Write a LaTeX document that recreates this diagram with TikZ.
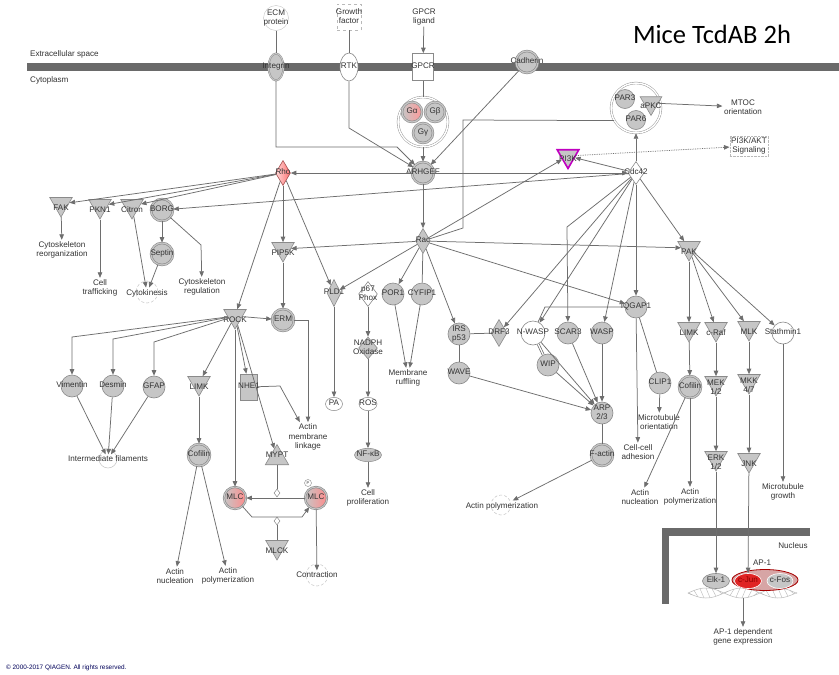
\documentclass[tikz,border=0pt]{standalone}
\usepackage{fontspec}
\setmainfont{Liberation Sans}
\newfontfamily\titlefont{Carlito}
\usetikzlibrary{shapes.geometric,arrows.meta}
\newcommand{\zb}[1]{\makebox[0pt]{\begin{tabular}{@{}c@{}}#1\end{tabular}}}
\definecolor{edgec}{HTML}{6E6E6E}
\definecolor{nodef}{HTML}{C6C6C6}
\definecolor{nodeb}{HTML}{8A8A8A}
\definecolor{membr}{HTML}{6A6A6A}
\definecolor{jun}{HTML}{E02424}
\definecolor{magen}{HTML}{C000C0}
\definecolor{apf}{HTML}{D7A5A5}
\begin{document}
\begin{tikzpicture}[x=1pt,y=-1pt,
  every node/.style={font=\fontsize{8.1}{9.4}\selectfont, text=black!80, inner sep=0pt},
  gc/.style={circle, fill=nodef, draw=nodeb, line width=0.6pt, minimum size=22pt},
  dc/.style={gc, double=nodef, double distance=1.2pt},
  wc/.style={circle, fill=white, draw=nodeb, line width=0.6pt, minimum size=22pt},
  kin/.style={regular polygon, regular polygon sides=3, shape border rotate=180, fill=nodef, draw=nodeb, line width=0.6pt, minimum size=26pt},
  kl/.style={yshift=-4pt, align=center},
  dia/.style={diamond, fill=nodef, draw=nodeb, line width=0.6pt, minimum width=15pt, minimum height=25pt},
  fn/.style={align=center, inner sep=1.5pt},
  gear/.style={draw=gray!45, densely dashed, line width=0.5pt},
  ed/.style={draw=edgec, line width=0.75pt, -{Triangle[length=5.5pt,width=4.5pt]}},
  ln/.style={draw=edgec, line width=0.75pt},
]
\useasboundingbox (0,0) rectangle (839,675);
\fill[white] (0,0) rectangle (839,675);

% membranes
\fill[membr] (27,62.5) rectangle (839,70.5);
\fill[membr] (662,528) rectangle (810,535.5);
\fill[membr] (662,528) rectangle (669,604);
\node[anchor=west] (ECS) at (30,54) {Extracellular space};
\node[anchor=west] (CYT) at (30,80) {Cytoplasm};
\node (NUC) at (793,546) {Nucleus};

% title
\node[font=\titlefont\fontsize{26.5}{29}\selectfont, text=black] (TTL) at (712,34) {Mice TcdAB 2h};

% top row
\node[circle, draw=gray!45, fill=white, minimum size=25pt] (ECM) at (276,18) {\zb{ECM\\protein}};
\node[draw=gray!55, dashed, fill=white, minimum width=24pt, minimum height=26pt] (GF) at (349,17) {\zb{Growth\\factor}};
\node (GL) at (424,17) {\zb{GPCR\\ligand}};
\node[ellipse, fill=nodef, draw=nodeb, double=nodef, double distance=1pt, minimum width=15pt, minimum height=27pt] (ITG) at (276,67) {\zb{Integrin}};
\node[ellipse, fill=white, draw=nodeb, line width=0.6pt, minimum width=18pt, minimum height=28pt] (RTK) at (349,67) {\zb{RTK}};
\node[rectangle, fill=white, draw=nodeb, line width=0.6pt, minimum width=21pt, minimum height=27pt] (GPCR) at (423,67) {\zb{GPCR}};
\node[dc] (CAD) at (527,62) {\zb{Cadherin}};

\node[circle, fill=white, draw=nodeb, double=white, double distance=1.5pt, minimum size=50pt] (GPC) at (423,122) {};
\node[dc, minimum size=20pt, left color=nodef, right color=red!40] (GA) at (412,112) {\zb{Gα}};
\node[dc, minimum size=20pt] (GB) at (435,112) {\zb{Gβ}};
\node[dc, minimum size=20pt] (GG) at (423,133) {\zb{Gγ}};

\node[dc] (ARH) at (423,173) {\zb{ARHGEF}};
\node[dia] (RAC) at (423,241) {\zb{Rac}};
\node[dia, left color=red!15, right color=red!55, draw=red!35!gray] (RHO) at (283,173) {\zb{Rho}};
\node[kin, draw=magen, line width=1.6pt, minimum size=25pt, label={[kl, yshift=1pt]center:PI3K}] (PI3K) at (568,156) {};
\node[dia, fill=white, minimum width=16pt, minimum height=23pt] (CDC) at (636,173) {\zb{Cdc42}};
\node[circle, fill=white, draw=nodeb, double=white, double distance=1.5pt, minimum size=50pt] (PARC) at (636,108) {};
\node[gc, minimum size=19pt] (PAR3) at (625,99) {\zb{PAR3}};
\node[kin, minimum size=25pt, label={[kl, yshift=1pt]center:aPKC}] (APKC) at (651,103) {};
\node[gc, minimum size=19pt] (PAR6) at (636,120) {\zb{PAR6}};
\node[fn] (MTOC) at (743,107) {MTOC\\orientation};
\node[fn, draw=gray!55, densely dotted] (AKT) at (749,146) {PI3K/AKT\\Signaling};

% left upper
\node[kin, label={[kl]center:FAK}] (FAK) at (61,204) {};
\node[kin, label={[kl]center:PKN1}] (PKN) at (100,206) {};
\node[kin, label={[kl]center:Citron}] (CIT) at (132,206) {};
\node[dc] (BORG) at (162,210) {\zb{BORG}};
\node[dc] (SEP) at (162,254) {\zb{Septin}};
\node[fn] (CRO) at (62,250) {Cytoskeleton\\reorganization};
\node[fn] (CTR) at (100,288) {Cell\\trafficking};
\draw[gear] (147,292) circle (11);
\node[fn] (CYK) at (147,293) {Cytokinesis};
\node[fn] (CRG) at (202,287) {Cytoskeleton\\regulation};

\node[kin, label={[kl]center:PIP5K}] (PIP) at (283,249) {};
\node[kin, label={[kl]center:ROCK}] (ROCK) at (235,316) {};
\node[dc] (ERM) at (283,320) {\zb{ERM}};

\node[gc] (VIM) at (72,386) {\zb{Vimentin}};
\node[gc] (DES) at (113,386) {\zb{Desmin}};
\node[gc] (GFAP) at (154,387) {\zb{GFAP}};
\node[kin, label={[kl]center:LIMK}] (LIMKL) at (199,383) {};
\node[rectangle, fill=nodef, draw=nodeb, line width=0.6pt, minimum width=17pt, minimum height=26pt] (NHE) at (249,387) {\zb{NHE1}};
\draw[draw=gray!45, line width=0.5pt] (108,459) circle (9);
\node[fn] (IF) at (108,459) {Intermediate filaments};
\node[dc] (COFL) at (199,455) {\zb{Cofilin}};
\node[fn] (AML) at (308,437) {Actin\\membrane\\linkage};
\node[regular polygon, regular polygon sides=3, fill=nodef, draw=nodeb, line width=0.6pt, minimum size=27pt, label={[yshift=3pt]center:MYPT}] (MYPT) at (277,458) {};
\node[gc, left color=nodef, right color=red!45, double=nodef, double distance=1pt] (MLCL) at (235,498) {\zb{MLC}};
\node[gc, left color=nodef, right color=red!45, double=nodef, double distance=1pt] (MLCR) at (316,498) {\zb{MLC}};
\node[circle, draw=nodeb, fill=white, minimum size=7pt, font=\fontsize{4}{4}\selectfont] (PH) at (308,483) {P};
\node[diamond, draw=nodeb, fill=white, line width=0.5pt, minimum width=6pt, minimum height=8pt] (D1) at (277,493) {};
\node[diamond, draw=nodeb, fill=white, line width=0.5pt, minimum width=6pt, minimum height=8pt] (D2) at (277,521) {};
\node[kin, label={[kl]center:MLCK}] (MLCK) at (277,547) {};
\draw[gear] (317,575) circle (11);
\node[fn] (CON) at (317,575) {Contraction};
\node[fn] (ANL) at (175,576) {Actin\\nucleation};
\node[fn] (APL) at (228,576) {Actin\\polymerization};

% middle
\node[dia, minimum width=14pt, minimum height=27pt] (PLD) at (334,293) {\zb{PLD1}};
\node[dia, fill=white, minimum width=11pt, minimum height=25pt] (P67) at (368,294) {\zb{p67\\Phox}};
\node[dia, minimum width=11pt, minimum height=22pt] (NOX) at (368,348) {\zb{NADPH\\Oxidase}};
\node[ellipse, fill=white, draw=nodeb, line width=0.5pt, minimum width=18pt, minimum height=11pt] (ROS) at (368,404) {\zb{ROS}};
\node[ellipse, fill=nodef, draw=nodeb, line width=0.5pt, minimum width=27pt, minimum height=13pt] (NFKB) at (368,455) {\zb{NF-κB}};
\node[fn] (CPR) at (368,498) {Cell\\proliferation};
\node[ellipse, fill=white, draw=nodeb, line width=0.5pt, minimum width=17pt, minimum height=11pt] (PA) at (334,404) {\zb{PA}};
\node[gc] (POR) at (393,294) {\zb{POR1}};
\node[gc] (CYF) at (422,294) {\zb{CYFIP1}};
\node[fn] (MRF) at (408,378) {Membrane\\ruffling};
\node[gc] (IRS) at (459,334) {\zb{IRS\\p53}};
\node[gc] (WAVE) at (459,373) {\zb{WAVE}};
\node[dia, minimum width=16pt, minimum height=27pt] (DRF) at (499,333) {\zb{DRF3}};
\node[wc, minimum size=24pt] (NW) at (533,333) {\zb{N-WASP}};
\node[gc] (WIP) at (548,365) {\zb{WIP}};
\node[gc] (SCAR) at (568,333) {\zb{SCAR3}};
\node[gc] (WASP) at (602,333) {\zb{WASP}};
\node[gc] (IQ) at (636,307) {\zb{IQGAP1}};
\node[gc] (ARP) at (602,413) {\zb{ARP\\2/3}};
\node[dc] (FACT) at (602,455) {\zb{F-actin}};
\draw[gear] (501,505) circle (10);
\node[fn] (APM) at (502,506) {Actin polymerization};
\node[gc] (CLIP) at (660,383) {\zb{CLIP1}};
\node[fn] (MTO) at (659,422) {Microtubule\\orientation};
\node[fn] (CCA) at (638,452) {Cell-cell\\adhesion};
\node[dc] (COFR) at (690,387) {\zb{Cofilin}};
\node[fn] (ANR) at (640,497) {Actin\\nucleation};
\node[fn] (APR) at (690,497) {Actin\\polymerization};

% right
\node[kin, label={[kl]center:PAK}] (PAK) at (689,248) {};
\node[kin, label={[kl]center:LIMK}] (LIMKR) at (689,329) {};
\node[kin, label={[kl]center:c-Raf}] (CRAF) at (716,329) {};
\node[kin, label={[kl]center:MLK}] (MLK) at (749,328) {};
\node[wc] (STM) at (783,333) {\zb{Stathmin1}};
\node[kin, label={[kl]center:{MEK\\1/2}}] (MEK) at (716,383) {};
\node[kin, label={[kl]center:{MKK\\4/7}}] (MKK) at (749,381) {};
\node[kin, label={[kl]center:{ERK\\1/2}}] (ERK) at (716,458) {};
\node[kin, label={[kl]center:JNK}] (JNK) at (749,460) {};
\node[fn] (MTG) at (783,492) {Microtubule\\growth};

% nucleus
\draw[gray!55, line width=0.5pt, domain=688:797, samples=80, smooth] plot (\x, {593+5*sin(5*(\x-688))});
\draw[gray!55, line width=0.5pt, domain=688:797, samples=80, smooth] plot (\x, {593-5*sin(5*(\x-688))});
\foreach \xx in {692,698,...,796} {\draw[gray!55, line width=0.4pt] (\xx,{593+5*sin(5*(\xx-688))}) -- (\xx-4,{593-5*sin(5*(\xx-692))});}
\node[ellipse, fill=nodef, draw=nodeb, line width=0.6pt, minimum width=27pt, minimum height=15pt] (ELK) at (716,581) {\zb{Elk-1}};
\node[ellipse, fill=apf, draw=red!65!black, line width=0.8pt, minimum width=66pt, minimum height=21pt] (AP1) at (765,580) {};
\node[ellipse, fill=jun, draw=white, line width=0.6pt, minimum width=27pt, minimum height=15pt, text=red!55!black] (JUN) at (748,581) {\zb{c-Jun}};
\node[ellipse, fill=nodef, draw=white, line width=0.6pt, minimum width=26pt, minimum height=15pt] (FOS) at (780,581) {\zb{c-Fos}};
\node (AP1L) at (762,563) {AP-1};
\coordinate (DNAC) at (743,598);
\node[fn] (AGE) at (743,637) {AP-1 dependent\\gene expression};

% copyright
\node[anchor=west, font=\fontsize{6.4}{7}\selectfont, text=blue!35!black] (COPY) at (6,668) {© 2000-2017 QIAGEN. All rights reserved.};

% ---------- edges ----------
\draw[ln] (ECM) -- (ITG);
\draw[ln] (GF) -- (RTK);
\draw[ed] (GL) -- (GPCR);
\draw[ln] (GPCR) -- (GPC);
\draw[ed] (GPC) -- (ARH);
\draw[ed] (ITG) -- (276,147) -- (397,147) -- (ARH);
\draw[ed] (RTK) -- (349,128) -- (ARH);
\draw[ed] (CAD) -- (ARH);
\draw[ed] (ARH) -- (RHO);
\draw[ed] (ARH) -- (CDC);
\draw[ed] (ARH) -- (RAC);
\draw[ln] (RAC) -- (463,228) -- (463,120) -- (PARC.210);
\draw[ed] (RAC) -- (PI3K);
\draw[ed] (CDC) -- (PI3K);
\draw[ed] (CDC) -- (PARC);
\draw[ed] (APKC) -- (MTOC);
\draw[ed, densely dotted] (PI3K) -- (AKT);

\draw[ed] (RHO) -- (FAK);
\draw[ed] (RHO) -- (PKN);
\draw[ed] (RHO) -- (CIT);
\draw[ed] (CDC) -- (BORG);
\draw[ed] (RHO) -- (PIP);
\draw[ed] (RAC) -- (PIP);
\draw[ed] (RHO) -- (ROCK);
\draw[ed] (RHO) -- (PLD);
\draw[ed] (RAC) -- (PLD);
\draw[ed] (RAC) -- (POR);
\draw[ln] (RAC) -- (CYF);
\draw[ed] (RAC) -- (IRS);
\draw[ed] (RAC) -- (IQ);
\draw[ed] (RAC) -- (PAK);

\draw[ed] (FAK) -- (CRO);
\draw[ed] (PKN) -- (CTR);
\draw[ed] (CIT) -- (CYK);
\draw[ed] (BORG) -- (SEP);
\draw[ed] (SEP) -- (CYK);
\draw[ed] (BORG) -- (201,245) -- (CRG);

\draw[ed] (PIP) -- (ERM);
\draw[ed] (ROCK) -- (ERM);
\draw[ed] (ROCK) -- (72,337) -- (VIM);
\draw[ed] (ROCK) -- (113,339) -- (DES);
\draw[ed] (ROCK) -- (154,342) -- (GFAP);
\draw[ed] (ROCK) -- (LIMKL);
\draw[ed] (ROCK) -- (NHE);
\draw[ed] (ROCK) -- (MYPT);
\draw[ed] (ROCK) -- (MLCL);
\draw[ed] (VIM) -- (IF);
\draw[ed] (DES) -- (IF);
\draw[ed] (GFAP) -- (IF);
\draw[ed] (LIMKL) -- (COFL);
\draw[ed] (COFL) -- (ANL);
\draw[ed] (COFL) -- (APL);
\draw[ed] (ERM) -- (308,320) -- (AML);
\draw[ed] (NHE) -- (280,386) -- (AML);
\draw[ln] (MYPT) -- (D1);
\draw[ed] (MLCR) -- (MLCL);
\draw[ed] (MLCL) -- (252,517) -- (302,517) -- (MLCR);
\draw[ln] (MLCK) -- (D2);
\draw[ed] (MLCR) -- (CON);

\draw[ed] (PLD) -- (PA);
\draw[ed] (P67) -- (NOX);
\draw[ed] (NOX) -- (ROS);
\draw[ed] (ROS) -- (NFKB);
\draw[ed] (NFKB) -- (CPR);
\draw[ed] (POR) -- (MRF);
\draw[ed] (CYF) -- (MRF);
\draw[ln] (IRS) -- (DRF);
\draw[ln] (IRS) -- (WAVE);
\draw[ed] (WAVE) -- (ARP);
\draw[ln, double=white, double distance=1.2pt] (NW) -- (WIP);
\draw[ed] (WIP) -- (ARP);
\draw[ed] (NW) -- (ARP);
\draw[ed] (SCAR) -- (ARP);
\draw[ed] (WASP) -- (ARP);
\draw[ln] (ARP) -- (FACT);
\draw[ed] (FACT) -- (APM);

\draw[ed] (CDC) -- (567,227) -- (SCAR);
\draw[ed] (CDC) -- (DRF);
\draw[ed] (CDC) -- (NW);
\draw[ed] (CDC) -- (WASP);
\draw[ed] (CDC) -- (IQ);
\draw[ed] (CDC) -- (PAK);
\draw[ln] (IQ) -- (545,307) -- (NW);
\draw[ln] (IQ) -- (CLIP);
\draw[ed] (CLIP) -- (MTO);
\draw[ed] (IQ) -- (CCA);

\draw[ed] (PAK) -- (LIMKR);
\draw[ed] (PAK) -- (CRAF);
\draw[ed] (PAK) -- (MLK);
\draw[ed] (PAK) -- (STM);
\draw[ed] (LIMKR) -- (COFR);
\draw[ed] (COFR) -- (ANR);
\draw[ed] (COFR) -- (APR);
\draw[ed] (CRAF) -- (MEK);
\draw[ed] (MEK) -- (ERK);
\draw[ed] (ERK) -- (ELK);
\draw[ed] (MLK) -- (MKK);
\draw[ed] (MKK) -- (JNK);
\draw[ed] (JNK) -- (JUN);
\draw[ed] (STM) -- (MTG);
\draw[ed] (DNAC) -- (AGE);
\end{tikzpicture}
\end{document}
